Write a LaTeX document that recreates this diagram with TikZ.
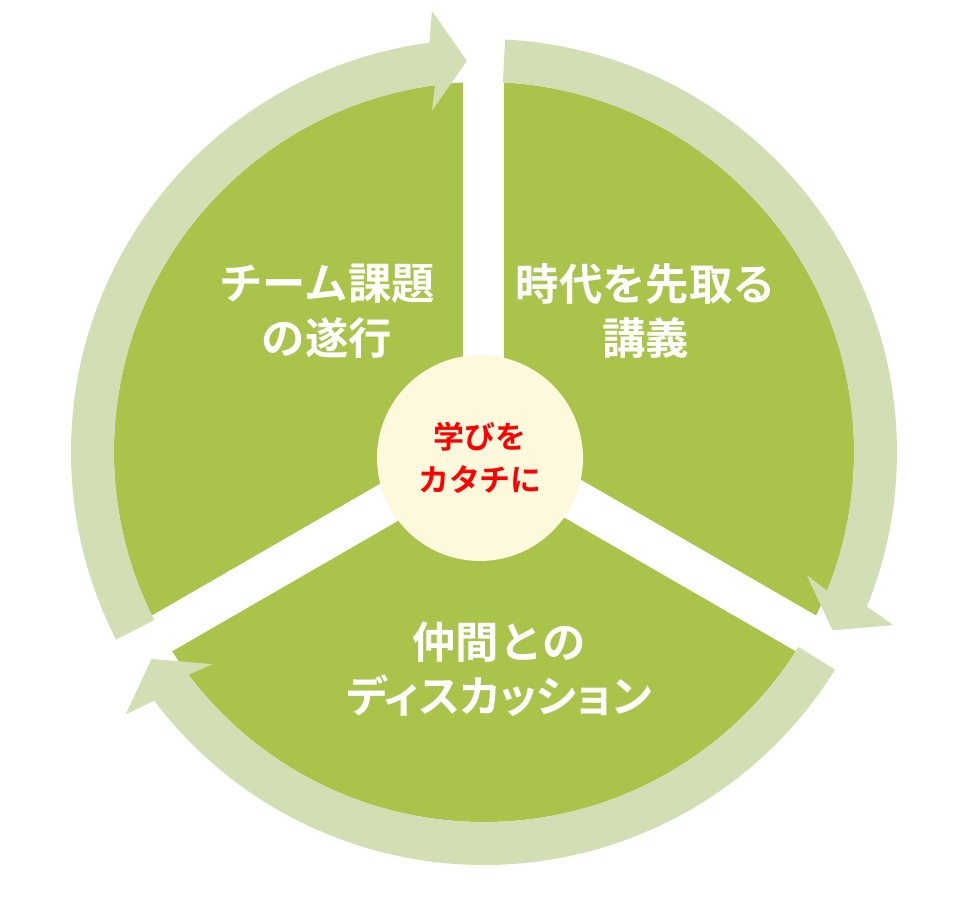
\documentclass[tikz,border=0pt]{standalone}
\usepackage{fontspec}
\setmainfont{Noto Sans CJK JP}[BoldFont={Noto Sans CJK JP Bold}]
\usepackage{tikz}
\usetikzlibrary{calc}

\definecolor{leaf}{HTML}{A9C34B}
\definecolor{pale}{HTML}{D2DEB3}
\definecolor{cream}{HTML}{FEF8DC}

\newcommand{\cyclearrow}[4]{%
  \coordinate (#4-tip) at (#2:391.5);
  \coordinate (#4-base) at ($(#4-tip)+(#3+90:35)$);
  \fill[pale] (#1:413) arc[start angle=#1, end angle=#2+5.1, radius=413]
    -- ($(#4-base)+(#3:50)$) -- (#4-tip) -- ($(#4-base)+(#3+180:50)$)
    -- (#2+5.1:370) arc[start angle=#2+5.1, end angle=#1, radius=370] -- cycle;
}

\begin{document}
\begin{tikzpicture}[x=0.02cm,y=0.02cm,
  label/.style={text=white,font=\fontsize{24.7}{31}\selectfont\bfseries,align=center},
  hub/.style={circle,fill=cream,minimum size=4.12cm,inner sep=0pt,text=red,
    font=\fontsize{17.6}{24.4}\selectfont\bfseries,align=center}]
  \useasboundingbox (-484,-452) rectangle (484,452);
  \fill[leaf] (0,0) circle (370);
  \foreach \a/\dy in {90/0,-30/4.5,210/4.5}
    \fill[white,shift={(0,\dy)},rotate=\a] (0,-20.5) rectangle (380,20.5);
  \cyclearrow{207}{92.5}{90}{team}
  \cyclearrow{87.07}{-27.1}{-30}{lecture}
  \cyclearrow{-31.8}{-148.1}{210}{talk}
  \node[hub] (hub) at (-4,-6) {学びを\\カタチに};
  \node[label] (teamtext) at (-157,141) {チーム課題\\の遂行};
  \node[label] (lecturetext) at (162,141) {時代を先取る\\講義};
  \node[label] (talktext) at (15,-217) {仲間との\\{\addfontfeature{RawFeature=+palt}ディスカッション}};
\end{tikzpicture}
\end{document}
